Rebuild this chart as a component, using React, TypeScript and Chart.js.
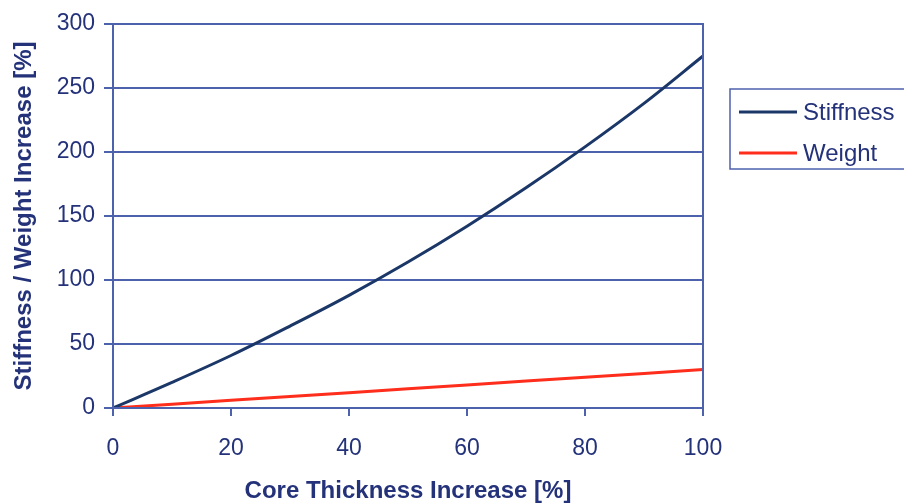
import React, { useEffect, useRef } from "react";
import { Chart, registerables } from "chart.js";

Chart.register(...registerables);

// Core thickness increase in percent
const thickness = [0, 10, 20, 30, 40, 50, 60, 70, 80, 90, 100];
// Resulting stiffness increase in percent
const stiffness = [0, 20, 41, 64, 88, 114, 142, 172, 204, 238, 275];
// Resulting weight increase in percent
const weight = [0, 3, 6, 9, 12, 15, 18, 21, 24, 27, 30];

const seriesNames = ["Stiffness", "Weight"];
const seriesColors = ["#1b3768", "#ff2d1c"];

const GRID = "#4d62ad";
const TEXT = "#24327a";
const FONT = "'Liberation Sans', Arial, sans-serif";

// Frame around the plot area plus a boxed legend to the right of it
const framePlugin = {
  id: "frameAndLegend",
  afterDraw(chart: any) {
    const { ctx, chartArea } = chart;
    ctx.save();
    ctx.strokeStyle = GRID;
    ctx.lineWidth = 2;
    ctx.strokeRect(chartArea.left, chartArea.top, chartArea.right - chartArea.left, chartArea.bottom - chartArea.top);

    const boxLeft = chartArea.right + 27;
    const boxTop = 89;
    ctx.lineWidth = 1.5;
    ctx.strokeRect(boxLeft, boxTop, 200, 80);

    ctx.font = `24px ${FONT}`;
    ctx.textBaseline = "middle";
    ctx.textAlign = "left";
    chart.data.datasets.forEach((ds: any, i: number) => {
      const y = boxTop + 23 + i * 41;
      ctx.strokeStyle = ds.borderColor;
      ctx.lineWidth = 3;
      ctx.beginPath();
      ctx.moveTo(boxLeft + 9, y);
      ctx.lineTo(boxLeft + 67, y);
      ctx.stroke();
      ctx.fillStyle = TEXT;
      ctx.fillText(ds.label, boxLeft + 73, y + 1);
    });
    ctx.restore();
  },
};

export default function App() {
  const ref = useRef<HTMLCanvasElement | null>(null);

  useEffect(() => {
    if (!ref.current) return;
    const chart = new Chart(ref.current, {
      type: "line",
      data: {
        datasets: [
          {
            label: seriesNames[0],
            data: thickness.map((x, i) => ({ x, y: stiffness[i] })),
            borderColor: seriesColors[0],
            borderWidth: 3,
            pointRadius: 0,
            tension: 0.35,
          },
          {
            label: seriesNames[1],
            data: thickness.map((x, i) => ({ x, y: weight[i] })),
            borderColor: seriesColors[1],
            borderWidth: 3,
            pointRadius: 0,
          },
        ],
      },
      options: {
        animation: false,
        responsive: false,
        layout: { padding: { left: 0, top: 24, right: 201, bottom: 0 } },
        plugins: { legend: { display: false }, tooltip: { enabled: false } },
        scales: {
          x: {
            type: "linear",
            min: 0,
            max: 100,
            afterFit: (s: any) => { s.height = 95; },
            ticks: { stepSize: 20, color: TEXT, font: { family: FONT, size: 23 }, padding: 19 },
            grid: { drawOnChartArea: false, drawTicks: true, tickLength: 8, color: GRID, tickColor: GRID, lineWidth: 2 },
            border: { color: GRID, width: 2 },
            title: {
              display: true,
              text: "Core Thickness Increase [%]",
              color: TEXT,
              font: { family: FONT, size: 24, weight: "bold" },
              padding: { top: 0, bottom: -3 },
            },
          },
          y: {
            min: 0,
            max: 300,
            afterFit: (s: any) => { s.width = 113; },
            ticks: { stepSize: 50, color: TEXT, font: { family: FONT, size: 23 }, padding: 9 },
            grid: { color: GRID, tickColor: GRID, tickLength: 9, lineWidth: 2 },
            border: { color: GRID, width: 2 },
            title: {
              display: true,
              text: "Stiffness / Weight Increase [%]",
              color: TEXT,
              font: { family: FONT, size: 24, weight: "bold" },
              padding: { top: 10, bottom: 0 },
            },
          },
        },
      },
      plugins: [framePlugin],
    });
    return () => chart.destroy();
  }, []);

  return (
    <div style={{ position: "fixed", left: 0, top: 0, width: 904, height: 503, background: "#fff" }}>
      <canvas ref={ref} width={904} height={503} />
    </div>
  );
}
